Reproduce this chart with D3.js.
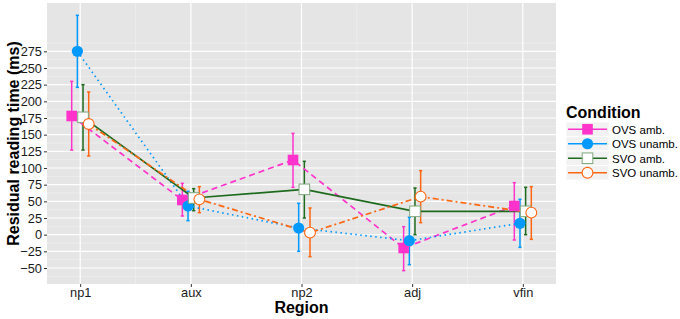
<!DOCTYPE html>
<html>
<head>
<meta charset="utf-8">
<script src="https://cdn.jsdelivr.net/npm/d3@7"></script>
<style>
    body { margin: 0; background: #fff; }
    svg { font-family: "Liberation Sans", Arial, Helvetica, sans-serif; }
</style>
</head>
<body>
<div id="vizChart"></div>
<script>
// regions on the x axis
const regions = ['np1', 'aux', 'np2', 'adj', 'vfin'];
const conditions = ['OVS amb.', 'OVS unamb.', 'SVO amb.', 'SVO unamb.'];

// means and error bar limits per condition (ms)
const ovsAmbMean = [178, 52, 112, -20, 43];
const ovsAmbLow = [127, 28, 71, -54, -8];
const ovsAmbHigh = [230, 77, 152, 12, 78];

const ovsUnambMean = [275, 43, 10, -9, 17];
const ovsUnambLow = [221, 21, -25, -45, -19];
const ovsUnambHigh = [329, 65, 47, 26, 53];

const svoAmbMean = [176, 55, 68, 35, 35];
const svoAmbLow = [127, 36, 25, 0, 0];
const svoAmbHigh = [225, 69, 110, 70, 71];

const svoUnambMean = [166, 53, 3, 57, 33];
const svoUnambLow = [118, 33, -33, 18, -7];
const svoUnambHigh = [214, 72, 40, 96, 72];

const yTicks = d3.range(-50, 276, 25);

const series = [
    { name: conditions[0], mean: ovsAmbMean, low: ovsAmbLow, high: ovsAmbHigh },
    { name: conditions[1], mean: ovsUnambMean, low: ovsUnambLow, high: ovsUnambHigh },
    { name: conditions[2], mean: svoAmbMean, low: svoAmbLow, high: svoAmbHigh },
    { name: conditions[3], mean: svoUnambMean, low: svoUnambLow, high: svoUnambHigh }
];

// look of each condition
const styles = {
    'OVS amb.': { color: '#ff33cc', dash: '6,4', shape: 'square', fill: '#ff33cc', stroke: '#ff33cc' },
    'OVS unamb.': { color: '#0099ff', dash: '1.5,3.5', shape: 'circle', fill: '#0099ff', stroke: '#0099ff' },
    'SVO amb.': { color: '#1e6b1e', dash: null, shape: 'square', fill: '#ffffff', stroke: '#7fa87f' },
    'SVO unamb.': { color: '#ff6611', dash: '6,3,2,3', shape: 'circle', fill: '#ffffff', stroke: '#ff6611' }
};

const width = 680, height = 319;
const margin = { top: 3, right: 124, bottom: 35, left: 47 };
const innerW = width - margin.left - margin.right;
const innerH = height - margin.top - margin.bottom;

const svg = d3.select('#vizChart')
    .append('svg')
    .attr('width', width)
    .attr('height', height);

const viz = svg.append('g')
    .attr('transform', `translate(${margin.left},${margin.top})`);

// scales
const xScale = d3.scalePoint()
    .domain(regions)
    .range([0, innerW])
    .padding(0.3);
const yScale = d3.scaleLinear()
    .domain([-74, 347.5])
    .range([innerH, 0]);
const dodge = d3.scalePoint()
    .domain(conditions)
    .range([-8.5, 8.5]);

// panel background + grid
viz.append('rect')
    .attr('width', innerW)
    .attr('height', innerH)
    .attr('fill', '#e5e5e5');

const minorY = d3.range(-62.5, 301, 25);
viz.selectAll('.minor-y')
    .data(minorY)
    .join('line')
    .attr('class', 'minor-y')
    .attr('x1', 0).attr('x2', innerW)
    .attr('y1', d => yScale(d)).attr('y2', d => yScale(d))
    .attr('stroke', '#f2f2f2')
    .attr('stroke-width', 0.6);

const step = xScale.step();
viz.selectAll('.minor-x')
    .data(regions.slice(1))
    .join('line')
    .attr('class', 'minor-x')
    .attr('x1', d => xScale(d) - step / 2).attr('x2', d => xScale(d) - step / 2)
    .attr('y1', 0).attr('y2', innerH)
    .attr('stroke', '#f2f2f2')
    .attr('stroke-width', 0.6);

viz.selectAll('.major-y')
    .data(yTicks)
    .join('line')
    .attr('class', 'major-y')
    .attr('x1', 0).attr('x2', innerW)
    .attr('y1', d => yScale(d)).attr('y2', d => yScale(d))
    .attr('stroke', '#fff')
    .attr('stroke-width', 1.2);

viz.selectAll('.major-x')
    .data(regions)
    .join('line')
    .attr('class', 'major-x')
    .attr('x1', d => xScale(d)).attr('x2', d => xScale(d))
    .attr('y1', 0).attr('y2', innerH)
    .attr('stroke', '#fff')
    .attr('stroke-width', 1.2);

// axes
const xAxis = d3.axisBottom(xScale).tickSize(3).tickPadding(1);
const yAxis = d3.axisLeft(yScale).tickValues(yTicks).tickSize(3).tickPadding(2)
    .tickFormat(d => d < 0 ? '\u2212' + Math.abs(d) : d);

const xAxisG = viz.append('g')
    .attr('transform', `translate(0,${innerH})`)
    .call(xAxis);
const yAxisG = viz.append('g').call(yAxis);

[xAxisG, yAxisG].forEach(g => {
    g.select('.domain').remove();
    g.selectAll('.tick line').attr('stroke', '#333');
    g.selectAll('.tick text')
        .attr('fill', '#1a1a1a')
        .style('font-size', '12.8px')
        .style('font-family', '"Liberation Sans", Arial, sans-serif');
});

// axis titles
svg.append('text')
    .attr('x', margin.left + innerW / 2)
    .attr('y', 313)
    .attr('text-anchor', 'middle')
    .style('font-size', '16px')
    .style('font-weight', 'bold')
    .text('Region');

svg.append('text')
    .attr('transform', `translate(19,${margin.top + innerH / 2}) rotate(-90)`)
    .attr('text-anchor', 'middle')
    .style('font-size', '16px')
    .style('font-weight', 'bold')
    .text('Residual reading time (ms)');

// marks
const px = (s, i) => xScale(regions[i]) + dodge(s.name);

function drawShape(g, st, x, y) {
    if (st.shape === 'square') {
        g.append('rect')
            .attr('x', x - 5.3).attr('y', y - 5.3)
            .attr('width', 10.6).attr('height', 10.6)
            .attr('fill', st.fill)
            .attr('stroke', st.stroke)
            .attr('stroke-width', st.fill === '#ffffff' ? 1 : 0);
    } else {
        g.append('circle')
            .attr('cx', x).attr('cy', y)
            .attr('r', st.fill === '#ffffff' ? 5.4 : 5.6)
            .attr('fill', st.fill)
            .attr('stroke', st.stroke)
            .attr('stroke-width', st.fill === '#ffffff' ? 1.1 : 0);
    }
}

// error bars
series.forEach(s => {
    const st = styles[s.name];
    const g = viz.append('g').attr('stroke', st.color).attr('stroke-width', 1.5);
    regions.forEach((r, i) => {
        const x = px(s, i);
        g.append('line')
            .attr('x1', x).attr('x2', x)
            .attr('y1', yScale(s.low[i])).attr('y2', yScale(s.high[i]));
        [s.low[i], s.high[i]].forEach(v => {
            g.append('line')
                .attr('x1', x - 1.6).attr('x2', x + 1.6)
                .attr('y1', yScale(v)).attr('y2', yScale(v));
        });
    });
});

// lines
const line = d3.line();
series.forEach(s => {
    const st = styles[s.name];
    viz.append('path')
        .datum(regions.map((r, i) => [px(s, i), yScale(s.mean[i])]))
        .attr('d', line)
        .attr('fill', 'none')
        .attr('stroke', st.color)
        .attr('stroke-width', 1.7)
        .attr('stroke-dasharray', st.dash);
});

// points
series.forEach(s => {
    const st = styles[s.name];
    const g = viz.append('g');
    regions.forEach((r, i) => drawShape(g, st, px(s, i), yScale(s.mean[i])));
});

// legend
const legend = svg.append('g').attr('transform', 'translate(566,0)');
legend.append('text')
    .attr('x', 0).attr('y', 118)
    .style('font-size', '16px')
    .style('font-weight', 'bold')
    .text('Condition');

conditions.forEach((c, i) => {
    const st = styles[c];
    const y0 = 122 + i * 14.5;
    const row = legend.append('g');
    row.append('rect')
        .attr('x', 0).attr('y', y0)
        .attr('width', 43).attr('height', 14.5)
        .attr('fill', '#f2f2f2')
        .attr('stroke', '#fff')
        .attr('stroke-width', 0.8);
    row.append('line')
        .attr('x1', 2).attr('x2', 41)
        .attr('y1', y0 + 7.25).attr('y2', y0 + 7.25)
        .attr('stroke', st.color)
        .attr('stroke-width', 1.5);
    drawShape(row, st, 21.5, y0 + 7.25);
    row.append('text')
        .attr('x', 46).attr('y', y0 + 11.5)
        .style('font-size', '11.5px')
        .text(c);
});
</script>
</body>
</html>
